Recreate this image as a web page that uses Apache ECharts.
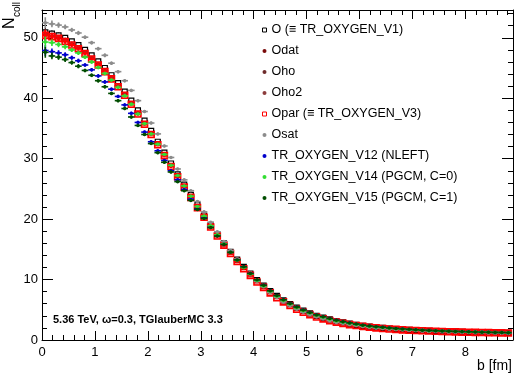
<!DOCTYPE html>
<html>
<head>
<meta charset="utf-8">
<script src="https://cdn.jsdelivr.net/npm/echarts@6/dist/echarts.min.js"></script>
<style>html,body{margin:0;padding:0;background:#fff}#c{width:523px;height:379px}</style>
</head>
<body>
<div id="c"></div>
<script>
// impact parameter bin centres [fm]
const B = [0.0625,0.1875,0.3125,0.4375,0.5625,0.6875,0.8125,0.9375,1.0625,1.1875,
1.3125,1.4375,1.5625,1.6875,1.8125,1.9375,2.0625,2.1875,2.3125,2.4375,
2.5625,2.6875,2.8125,2.9375,3.0625,3.1875,3.3125,3.4375,3.5625,3.6875,
3.8125,3.9375,4.0625,4.1875,4.3125,4.4375,4.5625,4.6875,4.8125,4.9375,
5.0625,5.1875,5.3125,5.4375,5.5625,5.6875,5.8125,5.9375,6.0625,6.1875,
6.3125,6.4375,6.5625,6.6875,6.8125,6.9375,7.0625,7.1875,7.3125,7.4375,
7.5625,7.6875,7.8125,7.9375,8.0625,8.1875,8.3125,8.4375,8.5625,8.6875,8.8125];
const BIN_HALF = 0.0625;
// statistical error on Ncoll
const ERR = [0.9,0.55,0.45,0.4,0.35,0.35,0.3,0.3,0.3,0.3,
0.28,0.28,0.27,0.27,0.26,0.26,0.25,0.25,0.24,0.24,
0.23,0.23,0.22,0.22,0.21,0.2,0.2,0.19,0.18,0.17,
0.16,0.15,0.14,0.13,0.12,0.11,0.1,0.1,0.09,0.09,
0.08,0.08,0.07,0.07,0.06,0.06,0.06,0.05,0.05,0.05,
0.05,0.05,0.05,0.05,0.05,0.05,0.05,0.05,0.05,0.05,
0.04,0.04,0.04,0.04,0.04,0.04,0.04,0.04,0.04,0.04,0.04];

const O = [50.9,50.7,50.4,50.0,49.4,48.8,48.0,47.1,46.1,45.0,
43.8,42.5,41.1,39.6,38.0,36.3,34.6,32.8,31.0,29.2,
27.4,25.7,24.0,22.3,20.6,19.0,17.5,16.0,14.6,13.3,
12.1,11.0,9.9,9.0,8.1,7.3,6.55,5.95,5.35,4.85,
4.4,4.0,3.7,3.4,3.1,2.9,2.7,2.5,2.35,2.2,
2.1,2.0,1.9,1.82,1.75,1.68,1.62,1.57,1.52,1.48,
1.44,1.40,1.37,1.34,1.31,1.28,1.26,1.24,1.22,1.20,1.18];
const ODAT = [50.5,50.3,50.0,49.6,49.0,48.4,47.6,46.7,45.7,44.6,
43.4,42.1,40.7,39.2,37.6,35.9,34.2,32.5,30.7,28.9,
27.2,25.5,23.8,22.1,20.5,18.9,17.4,15.9,14.5,13.2,
12.0,10.9,9.8,8.9,8.0,7.2,6.5,5.9,5.3,4.8,
4.4,4.0,3.7,3.4,3.1,2.9,2.7,2.5,2.35,2.2,
2.1,2.0,1.9,1.82,1.75,1.68,1.62,1.57,1.52,1.48,
1.44,1.40,1.37,1.34,1.31,1.28,1.26,1.24,1.22,1.20,1.18];
const OHO = [50.6,50.2,50.0,49.5,49.0,48.3,47.6,46.6,45.7,44.5,
43.4,42.0,40.7,39.1,37.6,35.8,34.2,32.4,30.7,28.9,
27.1,25.5,23.7,22.1,20.4,18.9,17.3,15.9,14.5,13.2,
12.0,10.9,9.8,8.9,8.0,7.2,6.5,5.9,5.3,4.8,
4.4,4.0,3.7,3.4,3.1,2.9,2.7,2.5,2.35,2.2,
2.1,2.0,1.9,1.82,1.75,1.68,1.62,1.57,1.52,1.48,
1.44,1.40,1.37,1.34,1.31,1.28,1.26,1.24,1.22,1.20,1.18];
const OHO2 = [50.4,50.3,49.9,49.6,48.9,48.4,47.5,46.7,45.6,44.6,
43.3,42.1,40.6,39.2,37.5,35.9,34.1,32.5,30.6,28.9,
27.2,25.4,23.8,22.0,20.5,18.8,17.4,15.8,14.5,13.1,
12.0,10.8,9.8,8.9,8.0,7.2,6.5,5.85,5.3,4.8,
4.35,4.0,3.65,3.4,3.1,2.9,2.7,2.5,2.35,2.2,
2.1,2.0,1.9,1.82,1.75,1.68,1.62,1.57,1.52,1.48,
1.44,1.40,1.37,1.34,1.31,1.28,1.26,1.24,1.22,1.20,1.18];
const OPAR = [50.4,50.2,49.9,49.4,48.8,48.2,47.4,46.5,45.5,44.4,
43.2,41.9,40.5,39.0,37.4,35.7,34.0,32.3,30.5,28.7,
27.0,25.3,23.6,21.9,20.3,18.7,17.2,15.7,14.3,13.0,
11.8,10.7,9.6,8.7,7.8,7.0,6.3,5.7,5.1,4.6,
4.2,3.8,3.5,3.2,2.95,2.75,2.55,2.4,2.25,2.1,
2.0,1.9,1.82,1.75,1.68,1.62,1.57,1.52,1.48,1.44,
1.40,1.37,1.34,1.31,1.28,1.26,1.24,1.22,1.20,1.18,1.16];
const OSAT = [52.5,52.3,52.1,51.8,51.3,50.8,50.1,49.2,48.2,47.1,
45.8,44.4,42.9,41.3,39.6,37.8,35.9,34.1,32.1,30.2,
28.3,26.5,24.7,22.9,21.2,19.5,17.9,16.3,14.8,13.4,
12.1,10.9,9.7,8.8,7.85,7.05,6.3,5.7,5.1,4.6,
4.2,3.8,3.5,3.2,2.9,2.75,2.55,2.4,2.25,2.1,
2.0,1.9,1.82,1.75,1.68,1.62,1.57,1.52,1.48,1.44,
1.40,1.37,1.34,1.31,1.28,1.26,1.24,1.22,1.20,1.18,1.16];
const V12 = [47.9,47.7,47.5,47.2,46.7,46.2,45.5,44.7,43.7,42.7,
41.5,40.3,38.9,37.5,36.0,34.4,32.8,31.3,29.7,28.0,
26.5,24.9,23.3,21.7,20.2,18.7,17.3,15.9,14.5,13.25,
12.1,11.0,9.9,9.05,8.15,7.35,6.65,6.05,5.45,4.95,
4.55,4.15,3.85,3.55,3.25,3.02,2.82,2.62,2.45,2.3,
2.2,2.1,1.98,1.9,1.82,1.75,1.68,1.63,1.57,1.53,
1.49,1.45,1.41,1.38,1.35,1.32,1.30,1.27,1.25,1.23,1.21];
const V14 = [49.3,49.2,48.9,48.5,48.0,47.5,46.8,46.0,45.1,44.1,
43.0,41.8,40.4,39.0,37.4,35.8,34.1,32.4,30.7,28.9,
27.2,25.5,23.8,22.1,20.5,18.9,17.4,15.9,14.5,13.2,
12.0,10.9,9.85,8.95,8.05,7.25,6.55,5.95,5.35,4.85,
4.45,4.05,3.75,3.45,3.15,2.95,2.75,2.55,2.4,2.25,
2.15,2.05,1.95,1.86,1.79,1.72,1.66,1.6,1.55,1.51,
1.47,1.43,1.4,1.37,1.34,1.31,1.29,1.27,1.25,1.23,1.21];
const V15 = [47.6,47.0,46.8,46.4,45.9,45.3,44.6,43.8,42.9,41.9,
40.8,39.6,38.3,36.9,35.5,34.0,32.5,31.0,29.4,27.8,
26.2,24.7,23.1,21.6,20.1,18.6,17.2,15.8,14.5,13.25,
12.1,11.0,9.95,9.05,8.15,7.35,6.65,6.05,5.45,4.95,
4.55,4.15,3.85,3.55,3.25,3.03,2.83,2.63,2.46,2.31,
2.2,2.1,1.99,1.9,1.83,1.76,1.69,1.63,1.58,1.53,
1.49,1.45,1.42,1.39,1.36,1.33,1.3,1.28,1.26,1.24,1.22];

const NAMES = ['O (\u2261 TR_OXYGEN_V1)','Odat','Oho','Oho2','Opar (\u2261 TR_OXYGEN_V3)','Osat',
  'TR_OXYGEN_V12 (NLEFT)','TR_OXYGEN_V14 (PGCM, C=0)','TR_OXYGEN_V15 (PGCM, C=1)'];
const VALUES = [O, ODAT, OHO, OHO2, OPAR, OSAT, V12, V14, V15];
const X_TICKS = [0,1,2,3,4,5,6,7,8];
const Y_TICKS = [0,10,20,30,40,50];

const STYLES = [
  {color:'#000000', marker:'osq', size:5, lw:1, fill:'#fff', mlw:1.2},
  {color:'#7a0a0a', marker:'dot', size:3.5, lw:1.2},
  {color:'#6e2b2b', marker:'dot', size:3.5, lw:1.2},
  {color:'#8c3c3c', marker:'dot', size:3.5, lw:1.2},
  {color:'#ff0000', marker:'osq', size:6, lw:2, fill:'rgba(255,0,0,0.35)', mlw:1.6},
  {color:'#8c8c8c', marker:'dot', size:3.5, lw:1.6},
  {color:'#0000cc', marker:'dot', size:3.5, lw:1.6},
  {color:'#33dd33', marker:'dot', size:3.5, lw:1.6},
  {color:'#004d00', marker:'dot', size:3.5, lw:1.6}
];

function renderer(st){
  return function(params, api){
    const x = api.value(0), y = api.value(1), e = api.value(2);
    const c = api.coord([x, y]);
    const l = api.coord([x - BIN_HALF, y]);
    const r = api.coord([x + BIN_HALF, y]);
    const t = api.coord([x, y + e]);
    const b = api.coord([x, y - e]);
    const ch = [
      {type:'line', shape:{x1:l[0], y1:c[1], x2:r[0], y2:c[1]}, style:{stroke:st.color, lineWidth:st.lw}},
      {type:'line', shape:{x1:c[0], y1:t[1], x2:c[0], y2:b[1]}, style:{stroke:st.color, lineWidth:st.lw}}
    ];
    const s = st.size;
    if (st.marker === 'osq') {
      ch.push({type:'rect', shape:{x:c[0]-s/2, y:c[1]-s/2, width:s, height:s}, style:{fill:st.fill, stroke:st.color, lineWidth:st.mlw}});
    } else {
      ch.push({type:'circle', shape:{cx:c[0], cy:c[1], r:s/2}, style:{fill:st.color}});
    }
    return {type:'group', children:ch};
  };
}

const series = NAMES.map((n, i) => ({
  type:'custom', name:n, clip:true,
  itemStyle:{color:STYLES[i].color},
  renderItem: renderer(STYLES[i]),
  data: B.map((bv, k) => [bv, VALUES[i][k], ERR[k]])
}));

const legendData = NAMES.map((n, i) => STYLES[i].marker === 'osq'
  ? {name:n, icon:'rect', itemStyle:{color:'#fff', borderColor:STYLES[i].color, borderWidth:1}}
  : {name:n, icon:'circle', itemStyle:{color:STYLES[i].color, borderWidth:0}});

const FONT = 'Liberation Sans';
const axisCommon = {
  axisLine:{show:true, onZero:false, lineStyle:{color:'#000', width:1}},
  splitLine:{show:false},
  minorTick:{show:true, splitNumber:5, length:5, lineStyle:{color:'#000'}},
  axisTick:{show:true, inside:true, lineStyle:{color:'#000'}}
};

const chart = echarts.init(document.getElementById('c'), null, {renderer:'canvas'});
chart.setOption({
  animation:false,
  backgroundColor:'#fff',
  grid:{left:42, right:10, top:10, bottom:39},
  xAxis:[
    Object.assign({}, axisCommon, {type:'value', min:0, max:8.9, interval:1, position:'bottom',
      axisTick:{show:true, inside:true, length:9, lineStyle:{color:'#000'}},
      axisLabel:{show:true, fontFamily:FONT, fontSize:13, color:'#000', margin:6, showMaxLabel:false,
        formatter: v => X_TICKS.indexOf(v) >= 0 ? String(v) : ''}}),
    Object.assign({}, axisCommon, {type:'value', min:0, max:8.9, interval:1, position:'top',
      axisTick:{show:true, inside:true, length:9, lineStyle:{color:'#000'}},
      axisLabel:{show:false}})
  ],
  yAxis:[
    Object.assign({}, axisCommon, {type:'value', min:0, max:54.6, interval:10, position:'left',
      axisTick:{show:true, inside:true, length:11, lineStyle:{color:'#000'}},
      axisLabel:{show:true, fontFamily:FONT, fontSize:13, color:'#000', margin:4, showMaxLabel:false,
        formatter: v => Y_TICKS.indexOf(v) >= 0 ? String(v) : ''}}),
    Object.assign({}, axisCommon, {type:'value', min:0, max:54.6, interval:10, position:'right',
      axisTick:{show:true, inside:true, length:11, lineStyle:{color:'#000'}},
      axisLabel:{show:false}})
  ],
  legend:{
    orient:'vertical', left:257, top:18, itemWidth:4, itemHeight:4, itemGap:7.0,
    textStyle:{fontFamily:FONT, fontSize:12.5, color:'#000', lineHeight:14},
    selectedMode:false, data:legendData
  },
  graphic:[
    {type:'text', x:18, y:29, rotation:Math.PI/2,
      style:{text:'N', fontFamily:FONT, fontSize:16, fill:'#000', align:'left', verticalAlign:'bottom'}},
    {type:'text', x:22, y:17, rotation:Math.PI/2,
      style:{text:'coll', fontFamily:FONT, fontSize:10, fill:'#000', align:'left', verticalAlign:'bottom'}},
    {type:'text', x:512, y:373,
      style:{text:'b [fm]', fontFamily:FONT, fontSize:14, fill:'#000', align:'right', verticalAlign:'bottom'}},
    {type:'text', x:53, y:320,
      style:{text:'5.36 TeV, \u03c9=0.3, TGlauberMC 3.3', fontFamily:FONT, fontSize:11, fontWeight:'bold', fill:'#000', align:'left', verticalAlign:'middle'}}
  ],
  series: series
});
</script>
</body>
</html>
